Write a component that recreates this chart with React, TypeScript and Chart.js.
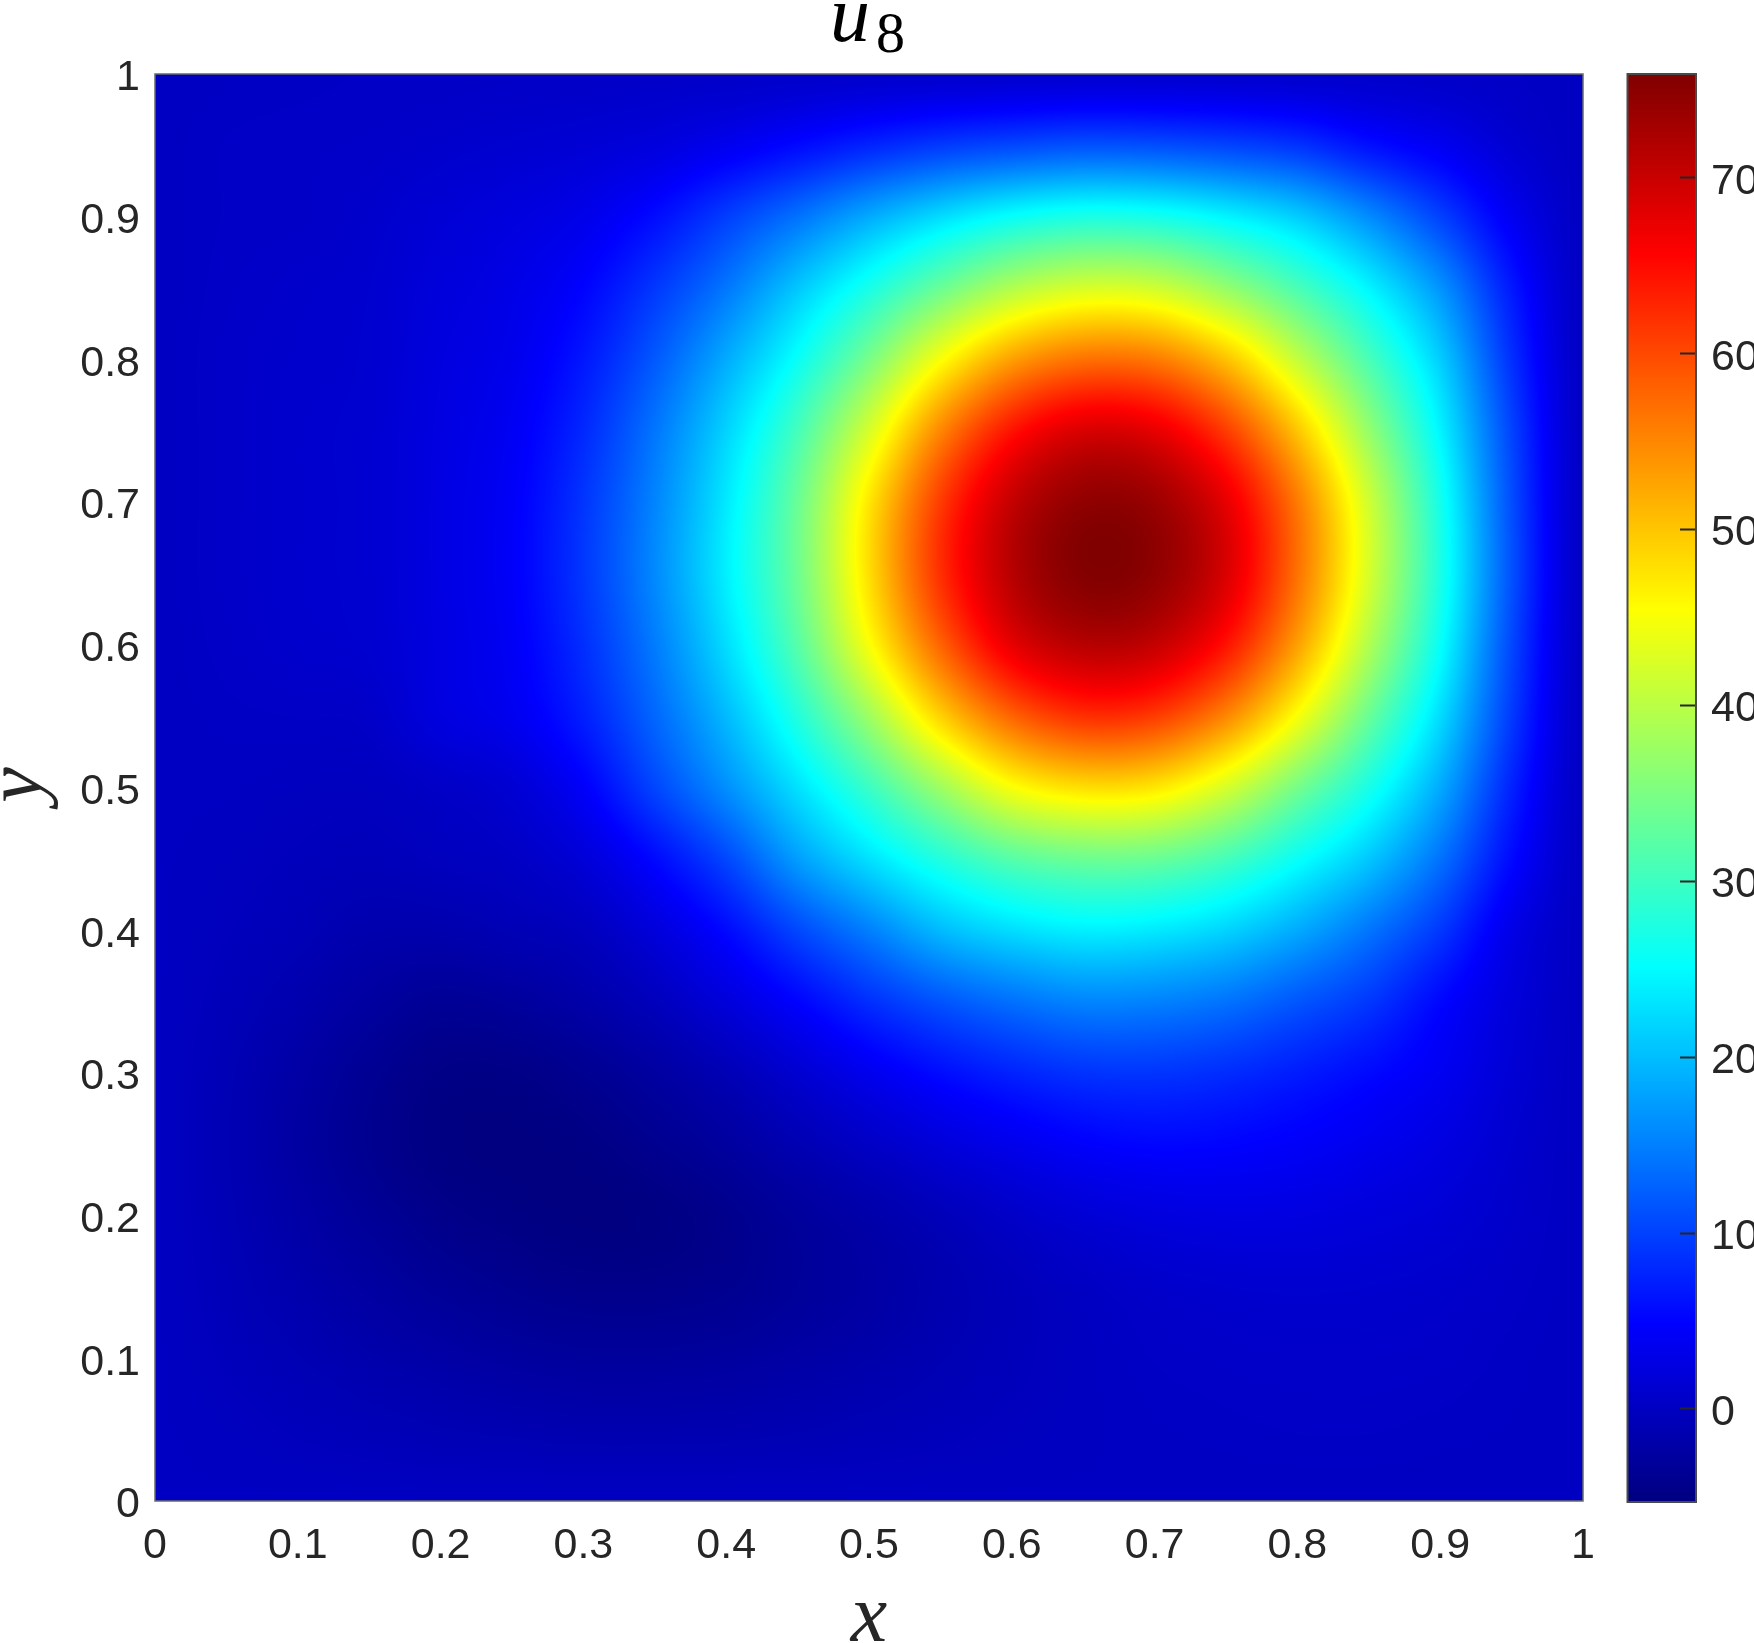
import React, { useEffect, useRef } from "react";
import { Chart, registerables } from "chart.js";

Chart.register(...registerables);

const xGrid = [0,.05,.1,.15,.2,.25,.3,.35,.4,.45,.5,.55,.6,.65,.7,.75,.8,.85,.9,.95,1];
const yGrid = [1,.95,.9,.85,.8,.75,.7,.65,.6,.55,.5,.45,.4,.35,.3,.25,.2,.15,.1,.05,0];
const u8Rows = [
[0,.1,.2,.3,.3,.4,.4,.5,.5,.6,.7,.8,.9,1,1,.9,.8,.7,.5,.3,0],
[0,.3,.4,.5,.8,1.1,1.5,2.2,3.6,5.5,7.6,9.4,10.5,11.3,11,10.2,8.8,6,3.8,1.3,0],
[0,.3,.4,.8,1.5,2.2,3.2,5.7,9.7,13.9,18.4,22.4,25.6,27.2,26.7,24.4,21.2,16,10,3.8,0],
[0,.4,.7,1,2,2.9,5,9.2,14.3,20.7,27,33.5,39.2,42.2,41.6,37,31,24.4,16.6,6.7,0],
[0,.5,.8,1.1,2.3,3.4,6.6,11.9,18.5,25.8,34.7,45,53,56.7,56,50.3,40.7,31,21.2,8.6,0],
[0,.5,.9,1.2,2.5,4,8,14.2,21.7,30.6,42.2,55,64.3,68.7,67.6,61,50,37,24.4,10.2,0],
[0,.5,.9,1.2,2.6,4.4,9,15.4,23.5,33.5,47.3,61,70.4,74.5,73.6,67.6,56,41.6,26.7,11,0],
[0,.5,.9,1.2,2.6,4.5,9.2,15.8,24,33.8,48,62,71.4,75.5,74.5,68.7,56.7,42.2,27.2,11.3,0],
[0,.4,.8,1.1,2.5,4.2,8.5,14.7,22.5,32,45,57.8,67.6,71.4,70.4,64.3,53,39.2,25.6,10.5,0],
[0,.2,.3,.5,2.3,3.6,7.2,13,19.7,27.8,37.7,49,57.8,62,61,55,45,33.5,22.4,9.4,0],
[0,0,-.2,-.2,.4,1.4,4.5,10.3,16.2,22.8,29.8,37.7,45,48,47.3,42.2,34.5,27,18.4,7.5,0],
[0,-.2,-.5,-.7,-.3,.2,1.8,5.5,10.5,17.4,22.8,27.8,32,33.8,33.5,30.6,25.8,20.7,13.9,5.5,0],
[0,-.4,-.9,-1.6,-1.6,-1,-.3,2,5.5,10.5,15,19.7,22.5,24,23.5,21.7,18.4,14.2,9.2,3,0],
[0,-.7,-1.6,-2.7,-3.5,-3,-2,-.4,2,5,8.5,11.5,13.8,15.4,15.2,14,11.7,9.2,5.3,2,0],
[0,-1,-2.3,-3.7,-4.7,-4.7,-3.9,-2.6,-1,1.2,3.5,5.7,7.5,8.8,9,8.3,7,5.5,3.8,1.5,0],
[0,-1.1,-2.6,-4,-5,-5.2,-4.9,-4,-2.8,-1.2,.3,1.9,3.3,4.6,5.2,5,4.4,3.5,2.5,1,0],
[0,-1,-2.2,-3.4,-4.4,-4.9,-5.2,-5,-4.2,-3,-1.9,-.7,.5,1.5,2.2,2.5,2.4,2,1.5,.7,0],
[0,-.8,-1.7,-2.6,-3.4,-4,-4.4,-4.4,-4,-3.2,-2.4,-1.5,-.6,.1,.7,1,1.1,1,.8,.4,0],
[0,-.5,-1.1,-1.7,-2.2,-2.7,-3,-3,-2.8,-2.3,-1.8,-1.2,-.6,-.1,.3,.5,.6,.6,.5,.2,0],
[0,-.2,-.5,-.8,-1.1,-1.3,-1.5,-1.5,-1.4,-1.2,-.9,-.6,-.3,-.1,.1,.2,.3,.3,.2,.1,0],
[0,0,0,0,0,0,0,0,0,0,0,0,0,0,0,0,0,0,0,0,0],
];
const axisTicks = [0,.1,.2,.3,.4,.5,.6,.7,.8,.9,1];
const colorTicks = [0,10,20,30,40,50,60,70];
const colorMin = -5.29;
const colorMax = 75.9;

const W = 1754, H = 1643;
const TICK_FONT = { family: "'Liberation Sans'", size: 43 };
const TEXT = "#262626";
const MATH_FONT = "'Liberation Serif'";

const clamp01 = (v: number) => Math.max(0, Math.min(1, v));
function jet(t: number): [number, number, number] {
  const r = clamp01(Math.min(4 * t - 1.5, -4 * t + 4.5));
  const g = clamp01(Math.min(4 * t - 0.5, -4 * t + 3.5));
  const b = clamp01(Math.min(4 * t + 0.5, -4 * t + 2.5));
  return [r * 255, g * 255, b * 255];
}
const cr = (a: number, b: number, c: number, d: number, s: number) =>
  b + 0.5 * s * (c - a + s * (2 * a - 5 * b + 4 * c - d + s * (3 * (b - c) + d - a)));

// Smooth shading of the grid ("shading interp"), placed through the chart's scales
const fieldPlugin = {
  id: "field",
  beforeDatasetsDraw(chart: any) {
    const { ctx, chartArea: a, scales } = chart;
    const w = Math.round(a.right - a.left), h = Math.round(a.bottom - a.top);
    const off = document.createElement("canvas");
    off.width = w; off.height = h;
    const octx = off.getContext("2d")!;
    const img = octx.createImageData(w, h);
    const n = xGrid.length, m = yGrid.length;
    const tmp = new Float64Array(n);
    const loc = (p: number) => { const i = Math.min(n - 2, Math.max(0, Math.floor(p))); return [i, p - i]; };
    const colLoc: number[][] = [];
    for (let px = 0; px < w; px++) {
      const xv = scales.x.getValueForPixel(a.left + px + 0.5);
      colLoc.push(loc(xv / (xGrid[1] - xGrid[0])));
    }
    for (let py = 0; py < h; py++) {
      const yv = scales.y.getValueForPixel(a.top + py + 0.5);
      const [j, fy] = loc((1 - yv) / (yGrid[0] - yGrid[1]));
      const j0 = Math.max(0, j - 1), j1 = j, j2 = j + 1, j3 = Math.min(m - 1, j + 2);
      for (let c = 0; c < n; c++) tmp[c] = cr(u8Rows[j0][c], u8Rows[j1][c], u8Rows[j2][c], u8Rows[j3][c], fy);
      for (let px = 0; px < w; px++) {
        const [i, fx] = colLoc[px];
        const v = cr(tmp[Math.max(0, i - 1)], tmp[i], tmp[i + 1], tmp[Math.min(n - 1, i + 2)], fx);
        const [r, g, b] = jet(clamp01((v - colorMin) / (colorMax - colorMin)));
        const k = (py * w + px) * 4;
        img.data[k] = r; img.data[k + 1] = g; img.data[k + 2] = b; img.data[k + 3] = 255;
      }
    }
    octx.putImageData(img, 0, 0);
    ctx.drawImage(off, a.left, a.top, a.right - a.left, a.bottom - a.top);
  },
  afterDraw(chart: any) {
    const { ctx, chartArea: a } = chart;
    ctx.save();
    ctx.strokeStyle = "#6a6a6a";
    ctx.lineWidth = 1.5;
    ctx.strokeRect(a.left, a.top, a.right - a.left, a.bottom - a.top);
    ctx.textBaseline = "alphabetic";
    ctx.textAlign = "left";
    ctx.fillStyle = "#000";
    ctx.font = `italic 80px ${MATH_FONT}`;
    ctx.fillText("u", 830, 41);
    ctx.font = `58px ${MATH_FONT}`;
    ctx.fillText("8", 876, 52);
    // y-axis label
    ctx.fillStyle = TEXT;
    ctx.translate(41, 785);
    ctx.rotate(-Math.PI / 2);
    ctx.textAlign = "center";
    ctx.font = `italic 80px ${MATH_FONT}`;
    ctx.fillText("y", 0, 0);
    ctx.restore();
  },
};

const barBorderPlugin = {
  id: "cbBorder",
  afterDraw(chart: any) {
    const { ctx, chartArea: a } = chart;
    ctx.save();
    ctx.strokeStyle = "#4a4a4a";
    ctx.lineWidth = 2;
    ctx.strokeRect(a.left, a.top, a.right - a.left, a.bottom - a.top);
    ctx.restore();
  },
};

const tickFmt = (v: any) => (v === 0 || v === 1 ? String(v) : Number(v).toFixed(1));

export default function App() {
  const mainRef = useRef<HTMLCanvasElement>(null);
  const barRef = useRef<HTMLCanvasElement>(null);

  useEffect(() => {
    const points: { x: number; y: number; v: number }[] = [];
    yGrid.forEach((y, j) => xGrid.forEach((x, i) => points.push({ x, y, v: u8Rows[j][i] })));

    const mainW = 1620;
    const main = new Chart(mainRef.current!, {
      type: "scatter",
      data: { datasets: [{ label: "u8", data: points, pointRadius: 0, showLine: false }] },
      plugins: [fieldPlugin],
      options: {
        animation: false,
        responsive: false,
        layout: { padding: { top: 74, right: mainW - 1583, left: 0, bottom: 0 } },
        plugins: { legend: { display: false }, tooltip: { enabled: false }, title: { display: false } },
        scales: {
          x: {
            type: "linear", min: 0, max: 1,
            afterBuildTicks: (s: any) => { s.ticks = axisTicks.map((value) => ({ value })); },
            afterFit: (s: any) => { s.height = H - 1501; },
            grid: { display: false },
            border: { display: false },
            ticks: { font: TICK_FONT, color: TEXT, padding: 11, maxRotation: 0, autoSkip: false, callback: tickFmt },
            title: { display: true, text: "x", color: TEXT, font: { family: MATH_FONT, style: "italic", size: 82 }, padding: { top: 0, bottom: -26 } },
          },
          y: {
            type: "linear", min: 0, max: 1,
            afterBuildTicks: (s: any) => { s.ticks = axisTicks.map((value) => ({ value })); },
            afterFit: (s: any) => { s.width = 155; },
            grid: { display: false },
            border: { display: false },
            ticks: { font: TICK_FONT, color: TEXT, padding: 7, labelOffset: 4.5, autoSkip: false, callback: tickFmt },
          },
        },
      } as any,
    });

    const left = 1610;
    const bar = new Chart(barRef.current!, {
      type: "bar",
      data: {
        labels: ["u8"],
        datasets: [{
          data: [[colorMin, colorMax]] as any,
          barPercentage: 1,
          categoryPercentage: 1,
          backgroundColor: (ctx: any) => {
            const { chart } = ctx;
            const yS = chart.scales.y;
            const p0 = yS ? yS.getPixelForValue(colorMin) : NaN;
            const p1 = yS ? yS.getPixelForValue(colorMax) : NaN;
            if (!Number.isFinite(p0) || !Number.isFinite(p1)) return "#800000";
            const g = chart.ctx.createLinearGradient(0, p0, 0, p1);
            for (let i = 0; i <= 32; i++) {
              const [r, gg, b] = jet(i / 32);
              g.addColorStop(i / 32, `rgb(${r},${gg},${b})`);
            }
            return g;
          },
        }],
      },
      plugins: [barBorderPlugin],
      options: {
        animation: false,
        responsive: false,
        layout: { padding: { top: 74, left: 1627.5 - left, right: 0, bottom: H - 1502 } },
        plugins: { legend: { display: false }, tooltip: { enabled: false } },
        scales: {
          x: { display: false },
          y: {
            position: "right",
            min: colorMin, max: colorMax,
            afterBuildTicks: (s: any) => { s.ticks = colorTicks.map((value) => ({ value })); },
            afterFit: (s: any) => { s.width = W - 1696; },
            grid: { drawOnChartArea: false, drawTicks: true, tickLength: -16, tickWidth: 2, tickColor: TEXT, z: 1 } as any,
            border: { display: false },
            ticks: { font: TICK_FONT, color: TEXT, padding: 31, labelOffset: 4, autoSkip: false, callback: (v: any) => String(v) },
          },
        },
      } as any,
    });

    return () => { main.destroy(); bar.destroy(); };
  }, []);

  return (
    <div style={{ position: "absolute", left: 0, top: 0, width: W, height: H, background: "#fff", overflow: "hidden" }}>
      <canvas ref={mainRef} width={1620} height={H} style={{ position: "absolute", left: 0, top: 0, width: 1620, height: H }} />
      <canvas ref={barRef} width={W - 1610} height={H} style={{ position: "absolute", left: 1610, top: 0, width: W - 1610, height: H }} />
    </div>
  );
}
